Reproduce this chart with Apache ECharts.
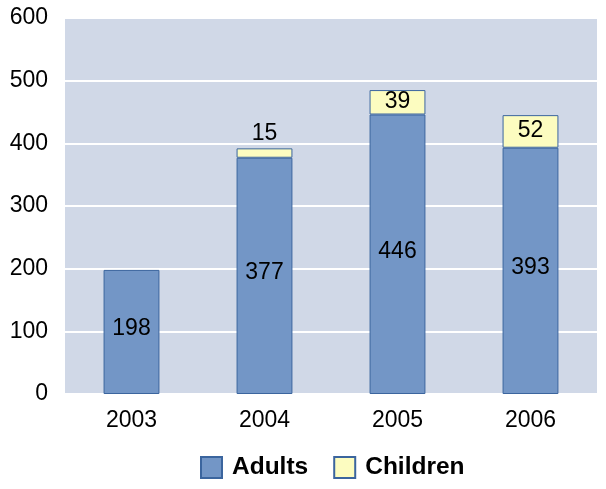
<!DOCTYPE html>
<html><head><meta charset="utf-8">
<script src="https://cdn.jsdelivr.net/npm/echarts@6/dist/echarts.min.js"></script>
<style>html,body{margin:0;padding:0;background:#fff}#c{width:606px;height:489px}</style>
</head><body><div id="c"></div>
<script>
const categories = ['2003', '2004', '2005', '2006'];
const adults = [198, 377, 446, 393];
const children = [null, 15, 39, 52];
const yTicks = [0, 100, 200, 300, 400, 500, 600];

const font = '"Liberation Sans", Arial, sans-serif';
const chart = echarts.init(document.getElementById('c'), null, {renderer: 'canvas'});
const border = '#3B659E';
chart.setOption({
  animation: false,
  grid: {left: 65, right: 9, top: 18, bottom: 95, show: true, backgroundColor: '#D0D8E7', borderWidth: 0},
  legend: {
    top: 450, left: 195, itemWidth: 21, itemHeight: 21, itemGap: 25, icon: 'rect',
    textStyle: {fontFamily: font, fontSize: 24.5, fontWeight: 'bold', color: '#000', padding: [0, 0, 0, 5]},
    data: ['Adults', 'Children']
  },
  xAxis: {
    type: 'category', data: categories,
    axisLine: {show: false}, axisTick: {show: false},
    axisLabel: {fontFamily: font, fontSize: 23, color: '#000', margin: 15}
  },
  yAxis: {
    type: 'value', min: yTicks[0], max: yTicks[yTicks.length - 1], interval: 100,
    axisLine: {show: false}, axisTick: {show: false},
    splitLine: {lineStyle: {color: '#fff', width: 2}},
    axisLabel: {fontFamily: font, fontSize: 23, color: '#000', margin: 17, padding: [0, 0, 8, 0]}
  },
  series: [
    {
      name: 'Adults', type: 'bar', stack: 'a', barWidth: '42%', data: adults,
      itemStyle: {color: '#7396C6', borderColor: border, borderWidth: 1},
      label: {show: true, position: 'inside', fontFamily: font, fontSize: 23, color: '#000', offset: [0, -3]}
    },
    {
      name: 'Children', type: 'bar', stack: 'a', barWidth: '42%',
      data: children.map(v => v === null ? null : (v < 25 ? {value: v, label: {position: 'top', distance: 2}} : v)),
      itemStyle: {color: '#FCFCC0', borderColor: border, borderWidth: 1},
      label: {show: true, position: 'inside', fontFamily: font, fontSize: 23, color: '#000', offset: [0, -1]}
    }
  ]
});
</script></body></html>
